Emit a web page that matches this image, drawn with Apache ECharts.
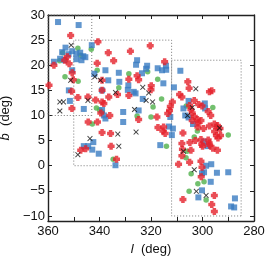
<!DOCTYPE html>
<html><head><meta charset="utf-8">
<script src="https://cdn.jsdelivr.net/npm/echarts@6/dist/echarts.min.js"></script>
<style>html,body{margin:0;padding:0;background:#fff}#c{width:274px;height:258px}</style>
</head><body><div id="c"></div>
<script>
// [l (deg), b (deg)]
const redPoints = [
 [359.6,16.0],[351.2,25.9],[340.6,24.7],[352.5,21.7],[353.5,21.0],[351.8,20.3],[357.7,20.0],
 [350.6,18.5],[350.2,17.1],[350.8,14.8],[348.4,13.6],[350.7,11.4],[344.5,13.7],[344.4,8.7],
 [340.8,8.7],[339.0,6.6],[335.7,6.4],[345.4,3.4],[347.3,3.1],[335.5,3.9],[333.4,1.3],
 [336.6,22.5],[334.5,20.9],[340.9,20.4],[339.0,17.0],[339.0,15.0],[336.4,13.7],[341.5,13.1],
 [339.0,12.7],[338.3,12.4],[336.0,10.0],[339.5,10.5],[328.6,17.2],[328.6,14.0],[328.0,22.8],
 [333.0,14.2],[320.3,23.9],[314.7,20.7],[325.4,17.9],[324.8,17.1],[319.9,15.9],[320.0,15.1],
 [305.7,16.7],[305.2,15.4],[308.9,14.2],[308.0,13.7],[297.3,14.7],[296.4,14.9],[311.7,12.7],
 [303.2,13.0],[305.0,12.0],[304.5,11.2],[301.5,12.2],[300.2,11.9],[297.8,10.8],[296.8,10.0],
 [324.8,9.2],[317.7,9.7],[312.8,11.0],[313.5,10.4],[312.5,11.8],[304.0,10.5],[303.2,9.8],
 [304.0,9.0],[302.0,9.2],[300.6,9.0],[299.6,7.4],[294.4,7.6],[294.2,8.0],[315.1,7.7],
 [317.3,7.6],[315.4,6.9],[314.5,6.4],[307.6,6.5],[301.8,8.5],[301.8,7.7],[297.3,7.9],
 [295.4,8.3],[295.3,6.8],[294.6,6.0],[293.2,7.4],[293.0,6.0],[297.8,5.1],[297.2,4.1],
 [296.0,3.5],[308.0,4.4],[307.8,3.3],[304.9,4.6],[304.5,3.1],[302.8,5.0],[300.6,5.2],
 [300.3,4.3],[300.0,3.9],[297.4,4.5],[294.2,3.1],[294.0,5.5],[308.0,2.0],[309.3,0.3],
 [305.0,0.7],[300.6,0.9],[300.2,-0.3],[300.5,-2.2],[295.4,-5.9],[307.6,-6.7],[296.4,-7.7],
 [295.4,-9.1]
];
const bluePoints = [
 [356.1,28.6],[348.1,28.0],[343.0,24.0],[353.2,23.5],[354.5,22.6],[352.0,22.2],[350.6,22.8],
 [349.0,22.3],[347.5,22.5],[346.3,21.8],[355.3,21.3],[353.6,21.0],[349.0,21.2],[347.0,21.0],
 [345.5,21.6],[357.7,20.7],[350.6,19.0],[351.9,15.0],[351.5,12.9],[346.1,11.3],[342.0,18.3],
 [337.7,19.0],[336.6,17.0],[339.0,15.0],[332.3,16.7],[332.5,18.5],[328.8,16.0],[329.0,15.1],
 [325.4,21.0],[330.8,10.7],[339.0,11.1],[338.3,10.0],[337.7,9.4],[330.8,8.7],[342.4,4.7],
 [346.1,3.9],[344.4,3.9],[342.8,3.2],[340.3,2.4],[333.8,0.1],[325.8,20.1],[321.5,19.9],
 [321.9,19.3],[323.5,18.4],[317.4,19.4],[315.7,19.0],[314.2,19.9],[314.1,19.1],[308.6,18.9],
 [315.2,16.4],[311.1,15.6],[326.7,14.7],[326.0,14.4],[323.2,13.3],[305.4,12.9],[299.1,12.4],
 [299.0,11.4],[324.8,11.0],[312.5,9.7],[313.0,7.8],[307.4,11.4],[306.7,10.0],[305.4,9.6],
 [311.5,7.4],[311.9,6.1],[303.7,8.3],[316.4,4.1],[298.1,3.9],[299.4,4.8],[298.6,0.0],
 [296.6,0.3],[300.2,-1.5],[299.4,-1.3],[294.4,-1.4],[290.0,-1.3],[296.8,-3.2],[300.2,-4.9],
 [301.6,-6.3],[287.4,-6.5],[288.9,-8.1],[287.7,-8.3]
];
const greenPoints = [
 [355.5,20.9],[354.3,22.5],[348.4,23.4],[343.2,23.2],[347.3,22.0],[353.4,17.7],[348.3,16.8],
 [342.8,8.3],[334.7,1.3],[340.9,19.0],[332.5,15.5],[328.6,18.3],[341.2,11.5],[339.9,11.1],
 [339.0,10.7],[321.3,18.7],[317.4,17.2],[315.9,13.3],[296.0,11.6],[319.2,11.7],[325.4,9.9],
 [320.0,9.7],[306.3,11.9],[303.2,5.7],[302.0,6.9],[290.0,6.1],[314.0,3.9],[306.0,2.9],
 [306.4,1.6],[304.4,-1.6],[301.8,-3.6],[299.4,-3.2],[305.2,-5.1],[298.6,-6.8]
];
const crossPoints = [
 [351.0,24.0],[351.2,17.0],[355.4,12.7],[354.0,12.7],[355.4,10.9],[344.5,13.0],[341.8,17.7],
 [339.6,17.0],[333.8,14.6],[326.4,11.2],[332.9,6.3],[343.7,5.4],[348.4,2.2],[332.5,3.9],
 [325.8,6.7],[323.2,15.6],[320.9,14.5],[321.9,13.0],[319.4,12.7],[302.6,15.3],[305.8,10.0],
 [304.0,11.6],[293.4,7.5],[307.4,2.9],[303.2,-0.8],[302.4,-5.1],[298.6,-5.9]
];
// dotted regions: [lFrom, lTo, bFrom, bTo]
const boxes = [
 [343, 360, 10, 30],
 [312, 350, 0, 25],
 [285, 312, -10, 21]
];
const yTicks = [-10, -5, 0, 5, 10, 15, 20, 25, 30];

const chart = echarts.init(document.getElementById('c'), null, {renderer: 'canvas'});
const font = 'Liberation Sans, Arial, sans-serif';
const axisLineStyle = {color: '#222', width: 1.4};
const redPath = 'path://M2,0H6V2H8V6H6V8H2V6H0V2H2Z';
const xPath = 'path://M0,1L1,0L4,3L7,0L8,1L5,4L8,7L7,8L4,5L1,8L0,7L3,4Z';

chart.setOption({
  animation: false,
  backgroundColor: '#fff',
  grid: {left: 48, right: 20, top: 15, bottom: 37, containLabel: false, outerBoundsMode: 'none'},
  xAxis: [{
    type: 'value', inverse: true, min: 280, max: 360, interval: 10,
    axisLine: {show: true, onZero: false, lineStyle: axisLineStyle},
    axisTick: {show: true, inside: true, length: 4, lineStyle: {color: '#222', width: 1}},
    axisLabel: {show: true, interval: 1, color: '#111', fontSize: 13, fontFamily: font, margin: 4,
      formatter: v => (v % 20 === 0 ? String(v) : '')},
    splitLine: {show: false},
    name: '{i|l}  (deg)', nameLocation: 'middle', nameGap: 20,
    nameTextStyle: {color: '#111', fontSize: 13, fontFamily: font,
      rich: {i: {fontStyle: 'italic', fontSize: 13, fontFamily: font, color: '#111'}}}
  }, {
    type: 'value', inverse: true, min: 280, max: 360, interval: 10, position: 'top',
    axisLine: {show: true, onZero: false, lineStyle: axisLineStyle},
    axisTick: {show: true, inside: true, length: 4, lineStyle: {color: '#222', width: 1}},
    axisLabel: {show: false}, splitLine: {show: false}
  }],
  yAxis: [{
    type: 'value', min: -11, max: 30,
    axisLine: {show: true, onZero: false, lineStyle: axisLineStyle},
    axisTick: {show: true, inside: true, length: 4, customValues: yTicks, lineStyle: {color: '#222', width: 1}},
    axisLabel: {show: true, customValues: yTicks, color: '#111', fontSize: 13, fontFamily: font, margin: 3,
      formatter: v => (v < 0 ? '\u2212' + Math.abs(v) : String(v))},
    splitLine: {show: false},
    name: '{i|b}  (deg)', nameLocation: 'middle', nameGap: 27, nameRotate: 90,
    nameTextStyle: {color: '#111', fontSize: 13, fontFamily: font,
      rich: {i: {fontStyle: 'italic', fontSize: 13, fontFamily: font, color: '#111'}}}
  }, {
    type: 'value', min: -11, max: 30, position: 'right',
    axisLine: {show: true, onZero: false, lineStyle: axisLineStyle},
    axisTick: {show: true, inside: true, length: 4, customValues: yTicks, lineStyle: {color: '#222', width: 1}},
    axisLabel: {show: false}, splitLine: {show: false}
  }],
  series: [{
    type: 'scatter', name: 'regions', data: [], silent: true,
    markArea: {
      silent: true,
      itemStyle: {color: 'rgba(0,0,0,0)', borderColor: '#777', borderWidth: 1, borderType: [1, 2]},
      data: boxes.map(b => [{coord: [b[0], b[2]]}, {coord: [b[1], b[3]]}])
    }
  }, {
    type: 'scatter', name: 'green', data: greenPoints, symbol: 'circle', symbolSize: 5.5,
    itemStyle: {color: '#4fb04a'}
  }, {
    type: 'scatter', name: 'blue', data: bluePoints, symbol: 'rect', symbolSize: 6,
    itemStyle: {color: '#3a7cc2'}
  }, {
    type: 'scatter', name: 'red', data: redPoints, symbol: redPath, symbolSize: 7,
    itemStyle: {color: '#e5212b'}
  }, {
    type: 'scatter', name: 'x', data: crossPoints, symbol: xPath, symbolSize: 5.5,
    itemStyle: {color: '#111'}
  }]
});
</script></body></html>
